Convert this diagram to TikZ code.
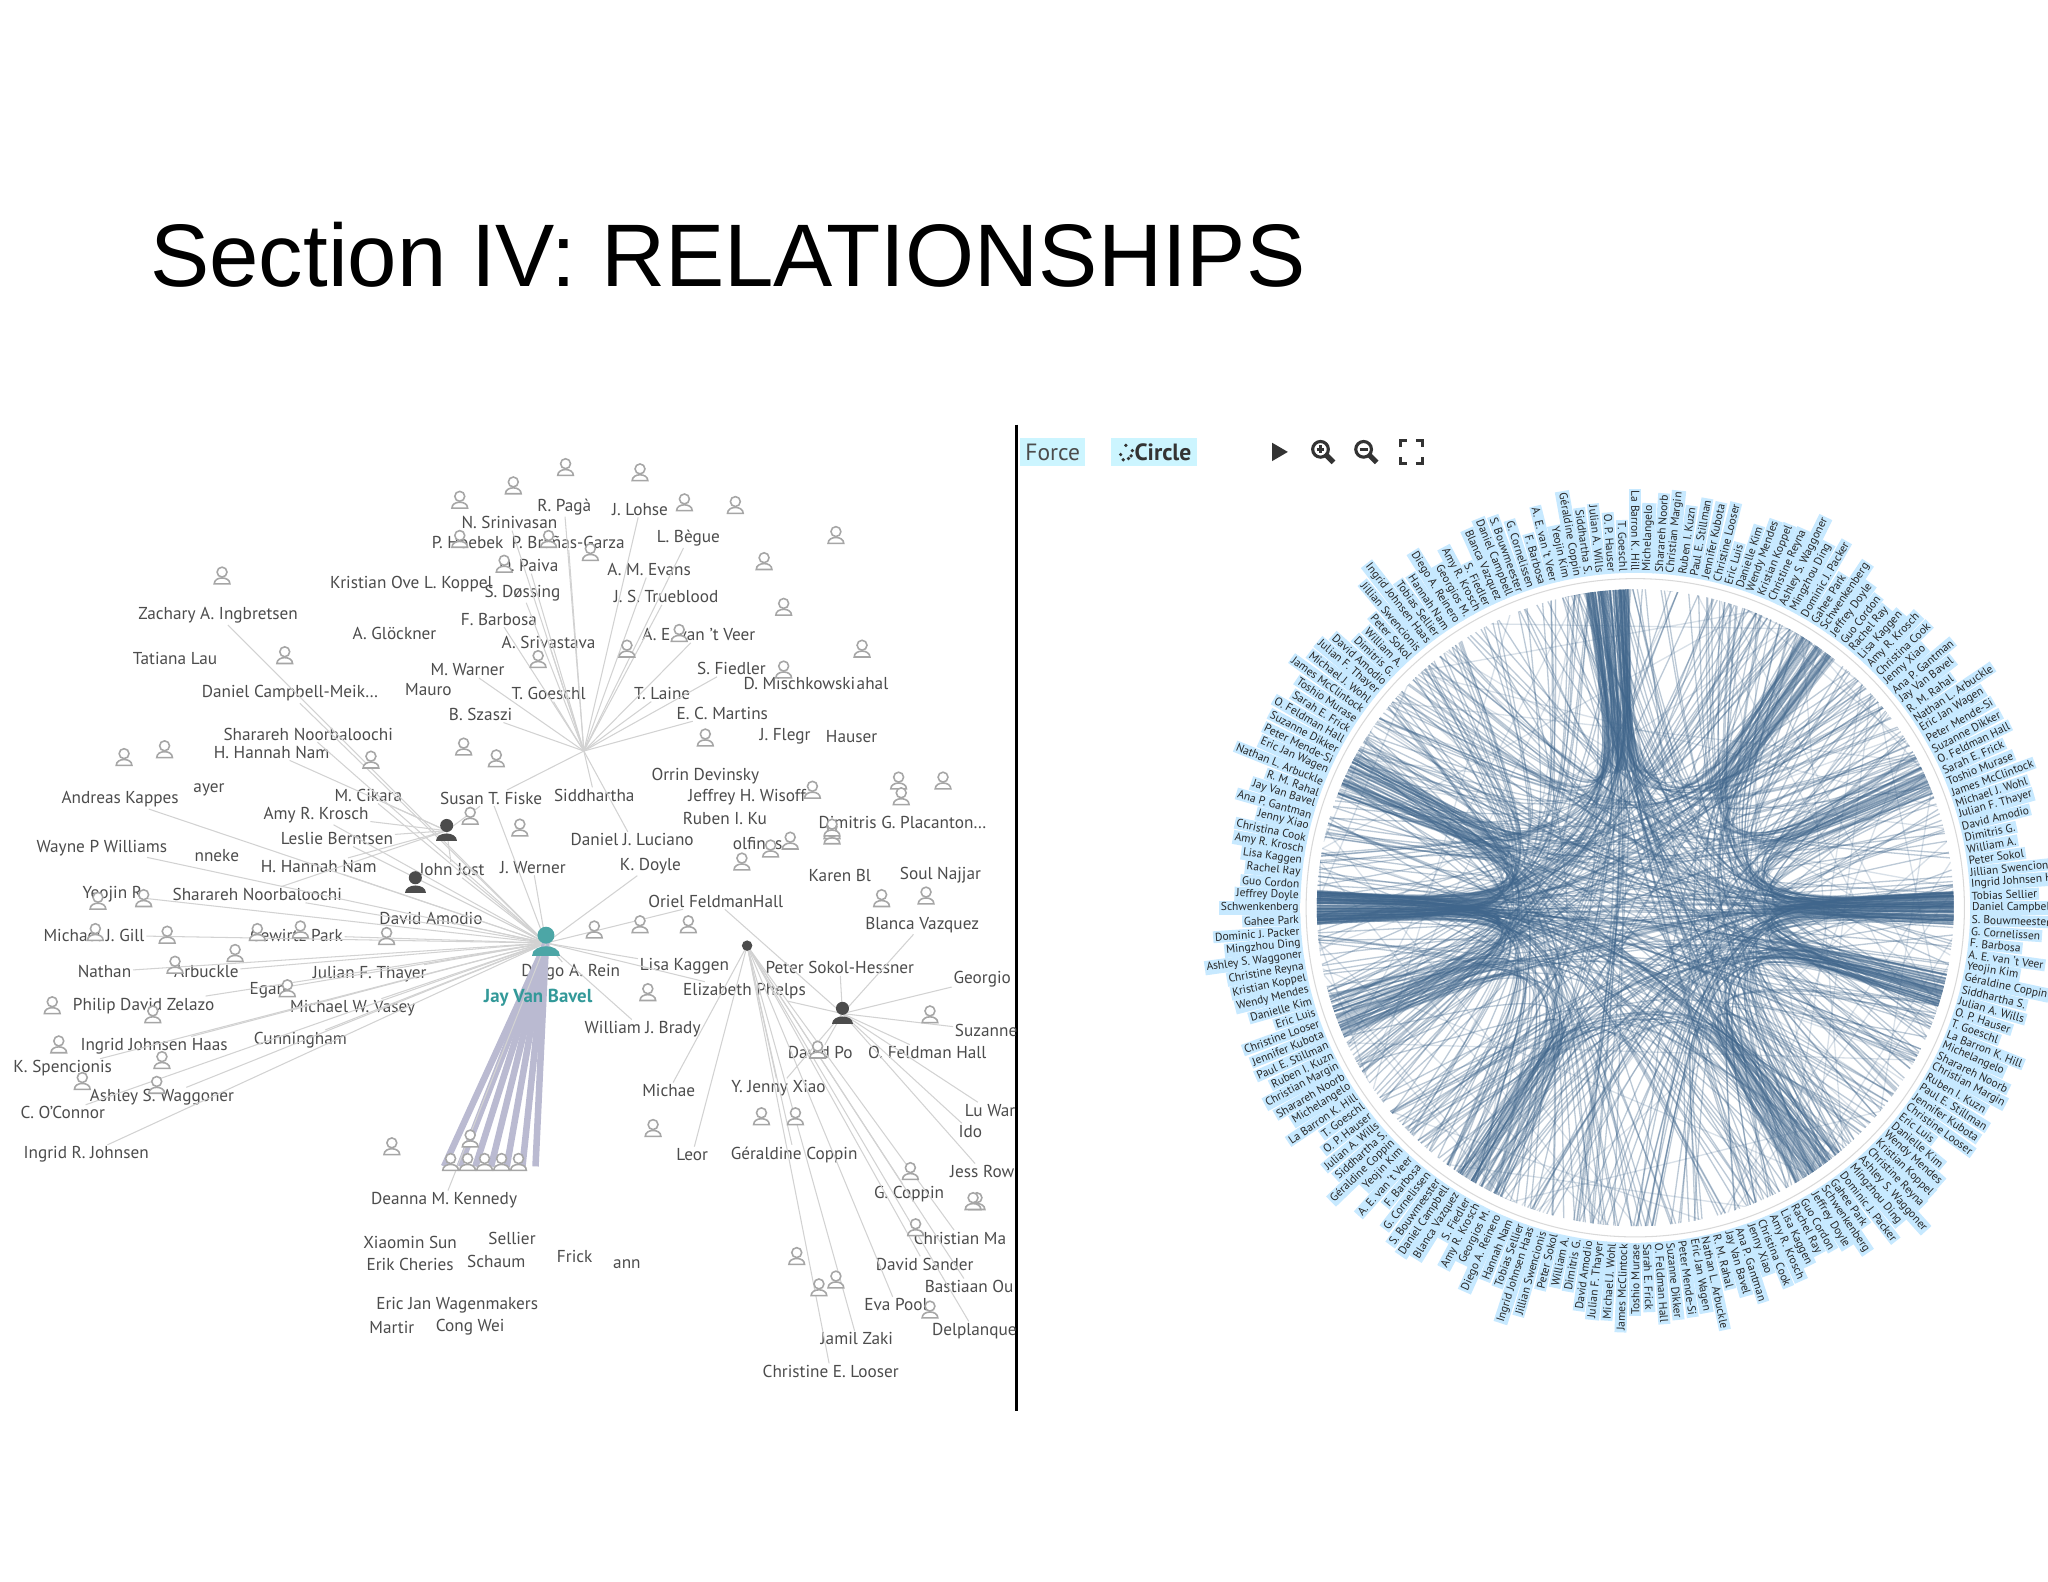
\documentclass[tikz,border=0pt]{standalone}
\usepackage{fontspec}
\usetikzlibrary{calc}
\setmainfont{PT Sans}
\newfontfamily\titlefont{Liberation Sans}
\begin{document}
\begin{tikzpicture}[x=0.5pt,y=-0.5pt,
  lbl/.style={font=\fontsize{6.6}{7}\selectfont,text=black!70,inner sep=0.5pt},
  edge/.style={draw=gray!35,line width=0.4},
  thick edge/.style={draw=blue!20!gray!45,line width=2.5},
  clbl/.style={font=\fontsize{4.4}{4.4}\selectfont,fill=blue!40!cyan!22,inner sep=0.7pt,text=black!85},
  chord/.style={draw=blue!50!cyan!40!black!75,line width=0.5,opacity=0.35},
  person/.pic={\draw[gray!70,line width=0.6,fill=white] (-6,6) .. controls (-6,0) and (6,0) .. (6,6) -- cycle; \draw[gray!70,line width=0.6,fill=white] (0,-3) circle (3.8);},
  hubp/.pic={\fill[black!70] (-8,8) .. controls (-8,0) and (8,0) .. (8,8) -- cycle; \fill[black!70] (0,-4) circle (5);},
  jayp/.pic={\fill[teal!70] (-11,10) .. controls (-11,0) and (11,0) .. (11,10) -- cycle; \fill[teal!70] (0,-6) circle (6.5);}
]
\useasboundingbox (0,0) rectangle (1568,1211);
\fill[white] (0,0) rectangle (1568,1211);
\node[anchor=west,font=\titlefont\fontsize{34}{40}\selectfont] (title) at (108,195) {Section IV: RELATIONSHIPS};
% panel divider
\draw[black,line width=1.2] (778,325) -- (778,1080);
% ---------- left graph ----------
\coordinate (jay) at (418,722);
\coordinate (h1) at (342,636);
\coordinate (h2) at (318,676);
\coordinate (h3) at (645,776);
\coordinate (h4) at (447,575);
\coordinate (h6) at (572,724);
\foreach \x/\y/\t/\n in {
390/400/N. Srinivasan/a1, 432/388/R. Pagà/a2, 490/390/J. Lohse/a3, 358/415/P. Hoebek/a4,
435/415/P. Brañas-Garza/a5, 527/412/L. Bègue/a6, 405/433/O. Paiva/a7, 497/436/A. M. Evans/a8,
315/447/Kristian Ove L. Koppel/a9, 400/454/S. Døssing/a10, 510/457/J. S. Trueblood/a11,
167/471/Zachary A. Ingbretsen/a12, 382/474/F. Barbosa/a13, 302/485/A. Glöckner/a14,
420/492/A. Srivastava/a15, 535/486/A. E. van 't Veer/a16, 134/504/Tatiana Lau/a17,
358/513/M. Warner/a18, 560/512/S. Fiedler/a19, 222/531/Daniel Campbell-Meik\dots/a20,
328/528/Mauro/a21, 420/531/T. Goeschl/a22, 507/531/T. Laine/a23, 612/523/D. Mischkowski/a24,
668/523/ahal/a25, 368/547/B. Szaszi/a26, 553/546/E. C. Martins/a27, 236/562/Sharareh Noorbaloochi/a28,
208/576/H. Hannah Nam/a29, 601/564/J. Flegr/a30, 652/564/Hauser/a31, 540/594/Orrin Devinsky/a32,
92/612/Andreas Kappes/a33, 160/605/ayer/a34, 282/609/M. Cikara/a35, 376/611/Susan T. Fiske/a36,
455/609/Siddhartha/a37, 572/610/Jeffrey H. Wisoff/a38, 242/624/Amy R. Krosch/a39,
555/627/Ruben I. Ku/a40, 691/630/Dimitris G. Placanton\dots/a41, 258/642/Leslie Berntsen/a42,
484/643/Daniel J. Luciano/a43, 580/646/olfinos/a44, 78/649/Wayne P Williams/a45, 166/655/nneke/a46,
244/663/H. Hannah Nam/a47, 346/666/John Jost/a48, 408/664/J. Werner/a49, 498/663/K. Doyle/a50,
643/670/Karen Bl/a51, 720/670/Soul Najjar/a52, 86/685/Yeojin R/a53, 197/685/Sharareh Noorbaloochi/a54,
548/690/Oriel FeldmanHall/a55, 330/703/David Amodio/a56, 72/716/Michael J. Gill/a57,
227/716/Gewirtz Park/a58, 706/708/Blanca Vazquez/a59, 80/744/Nathan/a60, 158/744/Arbuckle/a61,
283/746/Julian F. Thayer/a62, 437/744/Diego A. Rein/a63, 524/740/Lisa Kaggen/a64,
643/741/Peter Sokol-Hessner/a65, 752/750/Georgio/a66, 205/758/Egan/a67, 570/759/Elizabeth Phelps/a68,
110/770/Philip David Zelazo/a69, 270/772/Michael W. Vasey/a70, 492/788/William J. Brady/a71,
755/789/Suzanne/a72, 118/801/Ingrid Johnsen Haas/a73, 230/796/Cunningham/a74, 628/806/David Po/a75,
710/806/O. Feldman Hall/a76, 48/818/K. Spencionis/a77, 124/840/Ashley S. Waggoner/a78,
512/835/Michae/a79, 596/833/Y. Jenny Xiao/a80, 48/852/C. O'Connor/a81, 758/850/Lu War/a82,
743/866/Ido/a83, 66/884/Ingrid R. Johnsen/a84, 530/884/Leor/a85, 608/884/Géraldine Coppin/a86,
752/897/Jess Row/a87, 696/914/G. Coppin/a88, 340/919/Deanna M. Kennedy/a89, 735/948/Christian Ma/a90,
314/951/Xiaomin Sun/a91, 392/948/Sellier/a92, 314/968/Erik Cheries/a93, 380/966/Schaum/a94,
440/962/Frick/a95, 480/968/ann/a96, 708/968/David Sander/a97, 742/985/Bastiaan Ou/a98,
350/999/Eric Jan Wagenmakers/a99, 686/999/Eva Pool/a100, 300/1016/Martir/a101, 360/1016/Cong Wei/a102,
656/1025/Jamil Zaki/a103, 746/1019/Delplanque/a104, 636/1050/Christine E. Looser/a105}
{\node[lbl] (\n) at (\x,\y) {\t};}
% edges
\foreach \n in {a12,a20,a28,a33,a39,a42,a45,a53,a54,a56,a57,a58,a60,a61,a62,a67,a69,a70,a73,a74,a77,a78,a81,a84,a47,a48,a49,a50,a55,a63,a64,a68,a71,a36,a35}
  \draw[edge] (jay) -- (\n);
\foreach \n in {a1,a2,a3,a5,a6,a7,a8,a10,a11,a13,a15,a16,a18,a19,a22,a23,a26,a27,a36,a37,a43}
  \draw[edge] (h4) -- (\n);
\foreach \n in {a35,a36,a39,a42,a47,a48,a29,a54}
  \draw[edge] (h1) -- (\n);
\foreach \n in {a65,a66,a72,a75,a76,a80,a82,a83,a59,a55,a68,a87}
  \draw[edge] (h3) -- (\n);
\foreach \n in {a79,a80,a85,a86,a88,a90,a97,a98,a100,a103,a104,a105}
  \draw[edge] (h6) -- (\n);
\foreach \xx in {340,352,364,376,388,400,410}
  \draw[thick edge] (jay) -- (\xx,893);
\draw[edge] (jay) -- (a89);
% person icons
\foreach \x/\y in {352/383, 393/372, 433/358, 490/362, 524/385, 563/387, 170/441, 218/502, 386/432, 352/413, 420/413, 412/505,
  600/465, 660/497, 480/497, 520/485, 600/513, 688/598, 722/598, 95/580, 126/574, 284/582, 355/572, 380/581, 540/565,
  690/610, 637/636, 75/690, 73/714, 128/716, 197/714, 134/739, 398/634, 490/708, 527/708, 675/688, 110/688, 590/650,
  296/717, 220/757, 117/777, 120/831, 124/812, 63/828, 583/855, 609/855, 697/897, 748/920, 712/777, 712/1003, 626/804,
  637/640, 709/686, 568/660, 605/644, 637/634, 745/920, 701/940, 627/986, 300/878, 360/872, 500/864, 610/962, 640/980,
  360/625, 622/605, 640/410, 585/430, 452/423, 180/730, 40/770, 45/800, 230/712, 455/712, 496/760}
  \pic at (\x,\y) {person};
\foreach \xx in {345,358,371,384,397}
  \pic at (\xx,890) {person};
\pic at (h1) {hubp};
\pic at (h2) {hubp};
\pic at (h3) {hubp};
\pic at (jay) {jayp};
\fill[black!70] (h6) circle (4);
\node[lbl,font=\fontsize{7.2}{8}\selectfont\bfseries,text=teal!80] (jaylbl) at (412,764) {Jay Van Bavel};
% ---------- right: toolbar ----------
\node[fill=blue!20!cyan!20,font=\fontsize{9}{10}\selectfont,text=black!70,inner sep=2pt] (force) at (806,346) {Force};
\node[fill=blue!20!cyan!20,font=\fontsize{9}{10}\selectfont\bfseries,text=black!80,inner sep=2pt,anchor=west] (circ) at (850,346) {\phantom{ii}\ Circle};
\foreach \dx/\dy in {0/-5,5/-1,-4/2,4/3,-2/6,2/5}\fill[black!80] (862+\dx,346+\dy) circle (1.4);
\fill[black!80] (974,339) -- (974,353) -- (986,346) -- cycle;
\foreach \zx in {1011,1044}{\draw[black!80,line width=1.2] (\zx,344) circle (6); \draw[black!80,line width=2] (\zx+4,348) -- (\zx+10,354); \draw[black!80,line width=1] (\zx-3,344) -- (\zx+3,344);}
\draw[black!80,line width=1] (1011,341) -- (1011,347);
\draw[black!80,line width=1.2] (1072,342) -- (1072,337) -- (1077,337) (1084,337) -- (1089,337) -- (1089,342) (1072,350) -- (1072,355) -- (1077,355) (1084,355) -- (1089,355) -- (1089,350);
% ---------- right: circle ----------
\coordinate (cc) at (1252,695);
\pgfmathsetseed{7}
\foreach \h/\k/\sp in {180/130/6,265/110/8,0/110/6,15/60/6,55/50/10,120/40/10,205/50/8,305/50/8,335/40/8,160/40/8}{
  \foreach \i in {1,...,\k}{
    \pgfmathsetmacro{\b}{rnd*360}
    \pgfmathsetmacro{\hh}{\h+rnd*\sp-\sp/2}
    \draw[chord] ($(cc)+(\hh:244)$) .. controls ($(cc)+(\hh:60)$) .. ($(cc)+(\b:244)$);
  }}
\foreach \i in {1,...,60}{
  \pgfmathsetmacro{\b}{rnd*360}
  \pgfmathsetmacro{\c}{rnd*360}
  \draw[chord,opacity=0.2] ($(cc)+(\c:244)$) -- ($(cc)+(\b:244)$);
}
\draw[white,line width=5] (cc) circle (249);
\draw[gray!30,line width=0.4] (cc) circle (252);
\foreach \i in {0,...,179}{
  \pgfmathsetmacro{\a}{\i*2}
  \pgfmathparse{{"Daniel Campbell","S. Bouwmeester","G. Cornelissen","F. Barbosa","A. E. van 't Veer","Yeojin Kim","Géraldine Coppin","Siddhartha S.","Julian A. Wills","O. P. Hauser","T. Goeschl","La Barron K. Hill","Michelangelo","Sharareh Noorb","Christian Margin","Ruben I. Kuzn","Paul E. Stillman","Jennifer Kubota","Christine Looser","Eric Luis","Danielle Kim","Wendy Mendes","Kristian Koppel","Christine Reyna","Ashley S. Waggoner","Mingzhou Ding","Dominic J. Packer","Gahee Park","Schwenkenberg","Jeffrey Doyle","Guo Cordon","Rachel Ray","Lisa Kaggen","Amy R. Krosch","Christina Cook","Jenny Xiao","Ana P. Gantman","Jay Van Bavel","R. M. Rahal","Nathan L. Arbuckle","Eric Jan Wagen","Peter Mende-Si","Suzanne Dikker","O. Feldman Hall","Sarah E. Frick","Toshio Murase","James McClintock","Michael J. Wohl","Julian F. Thayer","David Amodio","Dimitris G.","William A.","Peter Sokol","Jillian Swencionis","Ingrid Johnsen Haas","Tobias Sellier","Hannah Nam","Diego A. Reinero","Georgios M.","Amy R. Krosch","S. Fiedler","Blanca Vazquez"}[mod(\i,62)]}
  \edef\nm{\pgfmathresult}
  \pgfmathsetmacro{\cs}{cos(\a)}
  \ifdim\cs pt>0pt
    \node[clbl,anchor=west,rotate=-\a] (c\i) at ($(cc)+(\a:256)$) {\nm};
  \else
    \node[clbl,anchor=east,rotate=180-\a] (c\i) at ($(cc)+(\a:256)$) {\nm};
  \fi
}
\end{tikzpicture}
\end{document}
